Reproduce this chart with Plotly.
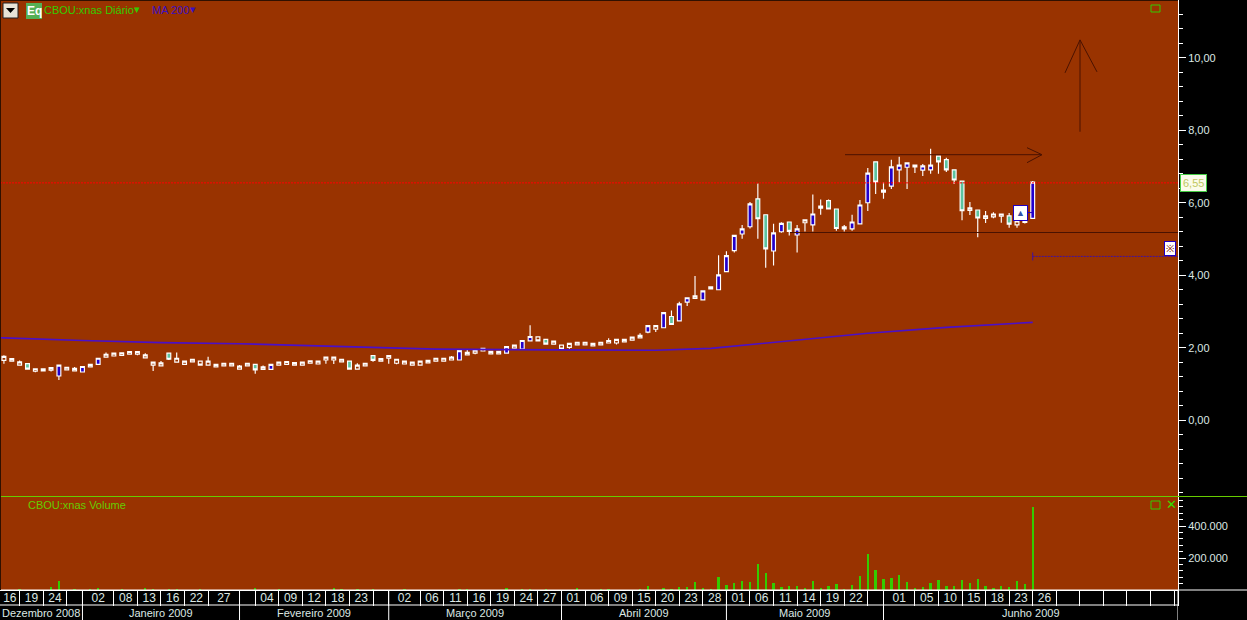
import plotly.graph_objects as go

# --- data ---
idx = list(range(132))
highs = [1.79,1.70,1.65,1.56,1.42,1.42,1.45,1.52,1.46,1.47,1.48,1.54,1.71,1.87,1.85,1.86,1.89,1.89,1.85,1.60,1.63,1.85,1.87,1.65,1.68,1.63,1.75,1.54,1.57,1.57,1.52,1.57,1.54,1.51,1.54,1.60,1.62,1.59,1.60,1.64,1.63,1.74,
         1.74,1.68,1.63,1.57,1.57,1.78,1.70,1.78,1.68,1.65,1.60,1.63,1.65,1.71,1.71,1.77,1.92,1.94,1.93,1.98,1.90,1.90,2.03,2.07,2.20,2.62,2.30,2.23,2.18,2.07,2.12,2.15,2.15,2.12,2.15,2.26,2.23,2.23,2.29,2.40,
         2.61,2.61,2.97,3.03,3.27,3.38,3.98,3.57,3.68,4.55,4.66,5.10,5.39,6.02,6.53,5.67,5.42,5.46,5.47,5.39,5.53,6.23,6.09,6.09,5.83,5.39,5.67,6.08,6.96,7.13,6.57,7.19,7.27,7.10,7.04,7.07,7.49,7.29,7.24,6.91,6.60,6.02,5.80,5.77,5.74,5.69,5.72,5.50,5.51,6.60]
lows = [1.56,1.63,1.52,1.41,1.32,1.36,1.34,1.11,1.39,1.36,1.33,1.47,1.54,1.74,1.77,1.77,1.82,1.79,1.72,1.36,1.50,1.66,1.60,1.52,1.61,1.52,1.52,1.47,1.50,1.50,1.41,1.50,1.28,1.40,1.40,1.52,1.54,1.52,1.52,1.57,1.55,1.56,
        1.55,1.61,1.41,1.41,1.50,1.61,1.63,1.56,1.54,1.55,1.52,1.52,1.58,1.63,1.63,1.66,1.66,1.80,1.82,1.91,1.83,1.83,1.85,1.99,1.96,2.19,2.19,2.10,2.10,1.96,1.97,2.08,2.08,2.05,2.08,2.13,2.09,2.16,2.21,2.27,
        2.40,2.43,2.55,2.64,2.74,3.15,3.36,3.32,3.62,3.60,4.10,4.63,5.01,5.29,5.01,4.21,4.27,5.17,5.10,4.63,5.21,5.21,5.67,5.83,5.23,5.21,5.23,5.42,5.77,6.24,6.11,6.38,6.57,6.38,6.82,6.74,6.80,6.80,6.85,6.52,5.52,5.66,5.05,5.44,5.57,5.45,5.31,5.31,5.43,5.56]
opens = [1.65,1.63,1.52,1.56,1.35,1.36,1.38,1.22,1.39,1.36,1.33,1.47,1.54,1.74,1.77,1.79,1.82,1.82,1.72,1.52,1.50,1.85,1.60,1.54,1.61,1.63,1.52,1.47,1.50,1.50,1.41,1.50,1.54,1.40,1.40,1.52,1.54,1.52,1.52,1.57,1.55,1.66,
         1.66,1.61,1.63,1.41,1.50,1.78,1.63,1.71,1.57,1.55,1.52,1.52,1.58,1.63,1.63,1.66,1.66,1.80,1.85,1.91,1.83,1.83,1.85,1.99,1.96,2.19,2.30,2.23,2.10,2.07,2.01,2.08,2.08,2.05,2.08,2.13,2.13,2.16,2.21,2.27,
         2.43,2.51,2.55,2.86,2.74,3.26,3.36,3.32,3.62,3.60,4.10,4.68,5.14,5.34,6.11,5.67,4.67,5.20,5.47,5.11,5.45,5.39,5.85,6.06,5.83,5.28,5.28,5.42,6.00,7.13,6.29,6.46,6.91,6.98,6.99,6.90,6.91,7.29,7.19,6.91,6.60,5.79,5.80,5.57,5.61,5.63,5.64,5.39,5.46,5.57]
closes = [1.76,1.70,1.61,1.41,1.42,1.42,1.45,1.52,1.46,1.43,1.48,1.54,1.71,1.82,1.85,1.86,1.89,1.89,1.80,1.60,1.58,1.68,1.71,1.63,1.68,1.52,1.63,1.54,1.57,1.57,1.49,1.57,1.39,1.47,1.54,1.60,1.62,1.59,1.60,1.64,1.63,1.74,
          1.74,1.68,1.41,1.52,1.57,1.65,1.70,1.78,1.68,1.63,1.60,1.63,1.65,1.71,1.71,1.74,1.92,1.87,1.93,1.98,1.90,1.90,2.03,2.07,2.20,2.31,2.19,2.10,2.18,1.96,2.12,2.15,2.15,2.12,2.15,2.20,2.23,2.23,2.29,2.34,
          2.61,2.61,2.97,2.64,3.21,3.38,3.43,3.57,3.68,4.01,4.54,5.10,5.28,5.97,5.56,4.73,5.17,5.43,5.21,5.28,5.53,5.69,5.91,5.83,5.29,5.34,5.47,5.94,6.82,6.57,6.35,6.99,7.04,7.10,7.04,7.02,7.04,7.13,6.91,6.63,5.78,5.86,5.58,5.64,5.69,5.69,5.41,5.50,5.51,6.57]
ma_idx = [-1,0,10,20,30,42,55,70,83,90,100,110,120,131]
ma_vals = [2.28,2.27,2.20,2.14,2.11,2.03,1.96,1.94,1.93,1.98,2.18,2.40,2.56,2.70]
vol_idx = [2,6,7,9,11,12,15,18,19,21,22,25,32,35,42,43,45,47,51,58,59,64,66,67,69,73,76,77,81,82,84,85,86,87,88,89,90,91,92,93,94,95,96,97,98,99,100,101,102,103,104,105,106,107,108,109,110,111,112,113,114,115,116,117,118,119,120,121,122,123,124,125,126,127,128,129,130,131]
vol_vals = [4000,17000,54000,4000,4000,10000,4000,8000,4000,4000,4000,4000,8000,4000,10000,4000,4000,4000,6000,4000,4000,12000,4000,4000,4000,10000,4000,4000,4000,23000,10000,6000,21000,17000,48000,10000,6000,79000,29000,42000,56000,48000,160000,104000,42000,17000,23000,27000,10000,54000,8000,23000,35000,4000,29000,85000,223000,123000,69000,73000,92000,48000,10000,17000,42000,60000,23000,23000,60000,44000,67000,23000,10000,23000,17000,54000,35000,517000]
last_price = 6.55
support = 5.18
stop_level = 4.52
price_ticks = [0, 2, 4, 6, 8, 10]
vol_ticks = [200000, 400000]
day_seps = [2,5,8,10,14,17,20,23,26,30,32,35,38,41,44,47,49,53,56,59,62,65,68,71,74,77,80,83,86,89,92,95,98,101,104,107,110,112,116,119,122,125,128,131,134,137,140,143,146,149,149.5]
day_labels = ["16","19","24","","02","08","13","16","22","27","","04","09","12","18","23","","02","06","11","16","19","24","27","01","06","09","15","20","23","28","01","06","11","14","19","22","","01","05","10","15","18","23","26","","","","","",""]
month_seps = [10,30,49,71,92,112,149.5]
month_labels = ["Dezembro 2008","Janeiro 2009","Fevereiro 2009","Março 2009","Abril 2009","Maio 2009","Junho 2009"]

BG = "#993300"
FONT = "Liberation Sans"
TXT = "#DCE8E4"
XR = [-0.5, 149.5]
W, H = 1247, 620
PW = 1178

# plain-body candles are those too short to show a fill
is_small = [abs(o - c) < 0.115 for o, c in zip(opens, closes)]
def pick(vals, mask):
    return [v if m else None for v, m in zip(vals, mask)]
big = [not s for s in is_small]

fig = go.Figure()
fig.add_trace(go.Scatter(x=ma_idx, y=ma_vals, mode="lines", line=dict(color="#4A10C8", width=1.6), xaxis="x", yaxis="y", hoverinfo="skip"))
WICK = dict(color="#FFFFFF", width=1.15)
fig.add_trace(go.Candlestick(x=idx, open=pick(opens, big), high=pick(highs, big), low=pick(lows, big), close=pick(closes, big),
    increasing=dict(line=WICK, fillcolor="#2200CC"),
    decreasing=dict(line=WICK, fillcolor="#5CC4A0"), xaxis="x", yaxis="y"))
fig.add_trace(go.Candlestick(x=idx, open=pick(opens, is_small), high=pick(highs, is_small), low=pick(lows, is_small), close=pick(closes, is_small),
    increasing=dict(line=WICK, fillcolor=BG),
    decreasing=dict(line=WICK, fillcolor=BG), xaxis="x", yaxis="y"))
fig.add_trace(go.Bar(x=vol_idx, y=vol_vals, marker=dict(color="#33CC00", line=dict(width=0)), width=0.3, xaxis="x2", yaxis="y2", hoverinfo="skip"))

day_pos = []
prev = XR[0]
for s in day_seps:
    day_pos.append((prev + s) / 2)
    prev = s
month_pos = []
prev = XR[0]
for s in month_seps:
    month_pos.append((prev + s) / 2)
    prev = s

def px_x(p):
    return p / PW * (XR[1] - XR[0]) + XR[0]
def val_y(p):
    return (421 - p) / 36.3

DARK = "#4A1200"
shapes = [
    dict(type="line", xref="x", yref="y", x0=XR[0], x1=XR[1], y0=last_price, y1=last_price, line=dict(color="#FF0000", width=1, dash="2px,1px")),
    dict(type="line", xref="x", yref="y", x0=px_x(790), x1=XR[1], y0=support, y1=support, line=dict(color=DARK, width=1)),
    dict(type="line", xref="x", yref="y", x0=131, x1=XR[1], y0=stop_level, y1=stop_level, line=dict(color="#4010A0", width=1, dash="2px,1px")),
    dict(type="line", xref="x", yref="y", x0=131, x1=131, y0=val_y(253), y1=val_y(261), line=dict(color="#4010A0", width=1)),
    # trend arrow
    dict(type="line", xref="x", yref="y", x0=px_x(845), x1=px_x(1042), y0=val_y(155), y1=val_y(155), line=dict(color=DARK, width=1)),
    dict(type="line", xref="x", yref="y", x0=px_x(1027), x1=px_x(1042), y0=val_y(148), y1=val_y(155), line=dict(color=DARK, width=1)),
    dict(type="line", xref="x", yref="y", x0=px_x(1027), x1=px_x(1042), y0=val_y(163), y1=val_y(155), line=dict(color=DARK, width=1)),
    # up arrow
    dict(type="line", xref="x", yref="y", x0=px_x(1080), x1=px_x(1080), y0=val_y(132), y1=val_y(40), line=dict(color=DARK, width=1)),
    dict(type="line", xref="x", yref="y", x0=px_x(1065), x1=px_x(1080), y0=val_y(73), y1=val_y(40), line=dict(color=DARK, width=1)),
    dict(type="line", xref="x", yref="y", x0=px_x(1097), x1=px_x(1080), y0=val_y(72), y1=val_y(40), line=dict(color=DARK, width=1)),
    # panel rules
    dict(type="line", xref="paper", yref="paper", x0=0, x1=W / PW, y0=(H - 496.5) / H, y1=(H - 496.5) / H, line=dict(color="#66CC00", width=1)),
    dict(type="line", xref="paper", yref="paper", x0=0, x1=W / PW, y0=30 / H, y1=30 / H, line=dict(color="#FFFFFF", width=1)),
    dict(type="line", xref="paper", yref="paper", x0=0, x1=1, y0=15 / H, y1=15 / H, line=dict(color="#FFFFFF", width=1)),
    # dark window edges
    dict(type="line", xref="paper", yref="paper", x0=0, x1=1, y0=1, y1=1, line=dict(color="#301000", width=2)),
    dict(type="line", xref="paper", yref="paper", x0=0, x1=0, y0=30 / H, y1=1, line=dict(color="#301000", width=2)),
    # window icons
    dict(type="rect", xref="paper", yref="paper", x0=1151 / PW, x1=1160 / PW, y0=(H - 12) / H, y1=(H - 5) / H, line=dict(color="#33CC00", width=1)),
    dict(type="rect", xref="paper", yref="paper", x0=1151 / PW, x1=1160 / PW, y0=(H - 509) / H, y1=(H - 501) / H, line=dict(color="#33CC00", width=1)),
    # header button
    dict(type="rect", xref="paper", yref="paper", x0=3 / PW, x1=18 / PW, y0=(H - 18) / H, y1=(H - 3) / H, fillcolor="#E8E4D8", line=dict(color="#202020", width=1)),
    dict(type="path", xref="paper", yref="paper", path=f"M {6/PW} {(H-8)/H} L {15/PW} {(H-8)/H} L {10.5/PW} {(H-13)/H} Z", fillcolor="#000000", line=dict(width=0)),
    dict(type="rect", xref="paper", yref="paper", x0=26 / PW, x1=42 / PW, y0=(H - 19) / H, y1=(H - 3) / H, fillcolor="#55B055", line=dict(width=0)),
    # marker connector
    dict(type="line", xref="x", yref="y", x0=px_x(1027), x1=131, y0=val_y(213), y1=val_y(213), line=dict(color="#2000C0", width=1)),
]
for s in month_seps:
    shapes.append(dict(type="line", xref="x2", yref="paper", x0=s, x1=s, y0=0, y1=30 / H, line=dict(color="#FFFFFF", width=1)))

def note(text, px, py, color, size=11, xanchor="left", **kw):
    return dict(text=text, xref="paper", yref="paper", x=px / PW, y=(H - py) / H, xanchor=xanchor, yanchor="middle",
                showarrow=False, font=dict(family=FONT, size=size, color=color), **kw)

annotations = [
    note("<b>Eq</b>", 34, 11, "#FFFFFF", 12, "center"),
    note("CBOU:xnas Diário", 41.5, 10, "#33CC00", 11),
    note("▾", 132, 9, "#33CC00", 11),
    note("MA 200", 149.5, 10, "#3A10C0", 11),
    note("▾", 188, 9, "#3A10C0", 11),
    note("CBOU:xnas Volume", 25.5, 505, "#66CC00", 11),
    note("✕", 1171, 505, "#33DD00", 13, "center"),
    note("6,55", 1193, 183, "#C0C860", 11, "center", bgcolor="#FBFBEA", bordercolor="#44CC44", borderwidth=1, borderpad=2),
    note("▲", 1020, 213, "#3050A8", 9, "center", bgcolor="#FFFFFF", bordercolor="#2000C0", borderwidth=1, borderpad=2),
    note("※", 1170, 248, "#802000", 10, "center", bgcolor="#FFFFFF", bordercolor="#2000C0", borderwidth=1, borderpad=1),
]
for p, t in zip(month_pos, month_labels):
    annotations.append(dict(text=t, xref="x2", yref="paper", x=p, y=7.5 / H, xanchor="center", yanchor="middle", showarrow=False,
                            font=dict(family=FONT, size=11, color=TXT)))

hidden = dict(showgrid=False, zeroline=False, range=XR, fixedrange=True)
fig.update_layout(
    width=W, height=H, margin=dict(l=0, r=W - PW, t=0, b=0, pad=0),
    paper_bgcolor="#000000", plot_bgcolor=BG, showlegend=False, bargap=0, boxmode="overlay",
    separators=",.", shapes=shapes, annotations=annotations,
    font=dict(family=FONT, size=11, color=TXT),
    xaxis=dict(domain=[0, 1], anchor="y", showticklabels=False, ticks="", rangeslider=dict(visible=False), **hidden),
    xaxis2=dict(domain=[0, 1], anchor="y2", tickmode="array", tickvals=day_pos, ticktext=day_labels, ticks="", ticklabelstandoff=-3,
                tickfont=dict(family=FONT, size=12, color=TXT), showline=True, linecolor="#FFFFFF",
                minor=dict(tickmode="array", tickvals=day_seps, ticks="outside", ticklen=15, tickcolor="#FFFFFF", tickwidth=1, showgrid=False), **hidden),
    yaxis=dict(domain=[124 / H, 1], anchor="x", side="right", range=[val_y(497), val_y(0)], tickmode="array", tickvals=price_ticks, tickformat=".2f",
               ticks="outside", ticklen=7, tickcolor="#FFFFFF", showline=True, linecolor="#FFFFFF", showgrid=False, zeroline=False,
               minor=dict(tickmode="array", tickvals=[v / 10 for v in range(-20, 117, 4)], ticks="outside", ticklen=4, tickcolor="#FFFFFF", tickwidth=1, showgrid=False),
               tickfont=dict(family=FONT, size=11, color=TXT), fixedrange=True),
    yaxis2=dict(domain=[30 / H, 123 / H], anchor="x2", side="right", range=[0, 581250], tickmode="array", tickvals=vol_ticks, tickformat=",d",
                ticks="outside", ticklen=7, tickcolor="#FFFFFF", showline=True, linecolor="#FFFFFF", showgrid=False, zeroline=False,
                minor=dict(tickmode="array", tickvals=[v * 40000 for v in range(1, 15)], ticks="outside", ticklen=4, tickcolor="#FFFFFF", tickwidth=1, showgrid=False),
                tickfont=dict(family=FONT, size=11, color=TXT), fixedrange=True),
)
fig.write_html("out.html", config=dict(displayModeBar=False), post_script="document.body.style.margin='0';")
